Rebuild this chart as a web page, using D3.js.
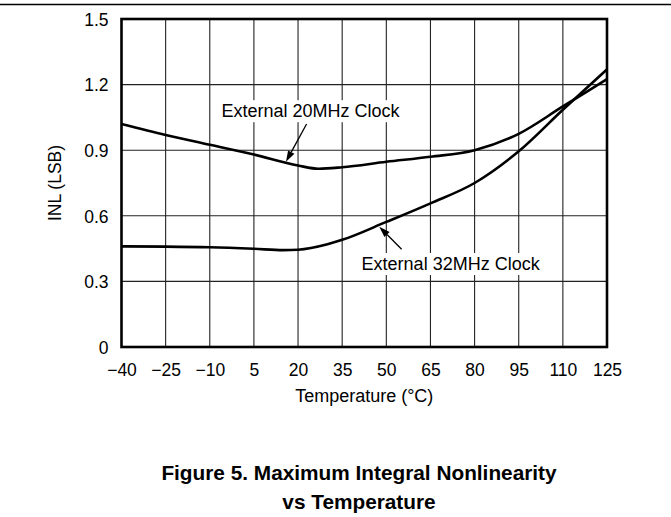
<!DOCTYPE html>
<html><head><meta charset="utf-8">
<script src="https://cdn.jsdelivr.net/npm/d3@7"></script>
<style>
html,body{margin:0;padding:0;background:#fff;}
svg{display:block;font-family:"Liberation Sans",Arial,Helvetica,sans-serif;}
</style></head>
<body>
<svg id="chart" width="671" height="517"></svg>
<script>
// ---- data ----
const xTicks = [-40, -25, -10, 5, 20, 35, 50, 65, 80, 95, 110, 125];
const yTicks = [0, 0.3, 0.6, 0.9, 1.2, 1.5];
const yTickLabels = ["0", "0.3", "0.6", "0.9", "1.2", "1.5"];
const temp20 = [-40, -25, -10, 5, 20, 27, 35, 50, 65, 80, 95, 110, 125];
const inl20  = [1.02, 0.97, 0.925, 0.88, 0.83, 0.815, 0.822, 0.847, 0.87, 0.90, 0.975, 1.10, 1.225];
const temp32 = [-40, -25, -10, 5, 15, 20, 30, 35, 50, 65, 80, 95, 110, 125];
const inl32  = [0.46, 0.459, 0.456, 0.449, 0.443, 0.445, 0.47, 0.49, 0.572, 0.657, 0.75, 0.895, 1.085, 1.27];
const labels = ["External 20MHz Clock", "External 32MHz Clock"];
// annotation anchors in data units: [textX, textY, arrowFromX, arrowFromY, arrowToX, arrowToY]
const annot20 = [-6, 1.051, 22.9, 1.02, 15.9, 0.847];
const annot32 = [41.6, 0.352, 55.2, 0.447, 47.6, 0.55];
const xTitle = "Temperature (°C)";
const yTitle = "INL (LSB)";
const titleLines = ["Figure 5. Maximum Integral Nonlinearity", "vs Temperature"];

// ---- layout ----
const L = 121.5, R = 607, T = 19, B = 347;
const svg = d3.select("#chart");
const x = d3.scaleLinear().domain([-40, 125]).range([L, R]);
const y = d3.scaleLinear().domain([0, 1.5]).range([B, T]);
const fmtMinus = v => v < 0 ? "\u2212" + Math.abs(v) : String(v);

// top rule
svg.append("line").attr("x1", 0).attr("x2", 671).attr("y1", 4.5).attr("y2", 4.5)
  .attr("stroke", "#000").attr("stroke-width", 1.3);

// grid
const grid = svg.append("g");
grid.selectAll(".vg").data(xTicks.slice(1, -1)).join("line")
  .attr("x1", d => x(d)).attr("x2", d => x(d)).attr("y1", T).attr("y2", B)
  .attr("stroke", "#222").attr("stroke-width", 1.1);
grid.selectAll(".hg").data(yTicks.slice(1, -1)).join("line")
  .attr("y1", d => y(d)).attr("y2", d => y(d)).attr("x1", L).attr("x2", R)
  .attr("stroke", "#222").attr("stroke-width", 1.1);

// axes (labels only, via d3 axis)
const xAxis = d3.axisBottom(x).tickValues(xTicks).tickSize(0).tickPadding(0).tickFormat(fmtMinus);
const gx = svg.append("g").attr("transform", `translate(0,${B})`).call(xAxis);
gx.select(".domain").remove();
gx.selectAll("text").attr("dy", null).attr("y", 29).attr("font-size", 17.5)
  .attr("font-family", "Liberation Sans, Arial, sans-serif").attr("fill", "#000");

const yAxis = d3.axisLeft(y).tickValues(yTicks).tickSize(0).tickPadding(13)
  .tickFormat((d, i) => yTickLabels[i]);
const gy = svg.append("g").attr("transform", `translate(${L},0)`).call(yAxis);
gy.select(".domain").remove();
gy.selectAll("text").attr("font-size", 17.5).attr("dy", "0.36em")
  .attr("font-family", "Liberation Sans, Arial, sans-serif").attr("fill", "#000");

// label backgrounds + text
const annLayer = svg.append("g");
function drawLabel(a, text) {
  const g = annLayer.append("g");
  const t = g.append("text").attr("x", x(a[0])).attr("y", y(a[1]))
    .attr("font-size", 18).attr("fill", "#000").text(text);
  const bb = t.node().getBBox();
  g.insert("rect", "text").attr("x", bb.x - 3).attr("y", bb.y - 1)
    .attr("width", bb.width + 6).attr("height", bb.height + 2).attr("fill", "#fff");
}

// curves
const line = d3.line().x(d => x(d[0])).y(d => y(d[1])).curve(d3.curveMonotoneX);
svg.append("path").datum(temp20.map((t, i) => [t, inl20[i]])).attr("d", line)
  .attr("fill", "none").attr("stroke", "#000").attr("stroke-width", 2.6);
svg.append("path").datum(temp32.map((t, i) => [t, inl32[i]])).attr("d", line)
  .attr("fill", "none").attr("stroke", "#000").attr("stroke-width", 2.6);

annLayer.raise();
drawLabel(annot20, labels[0]);
drawLabel(annot32, labels[1]);

// arrows
function drawArrow(a) {
  const x1 = x(a[2]), y1 = y(a[3]), x2 = x(a[4]), y2 = y(a[5]);
  const ang = Math.atan2(y2 - y1, x2 - x1);
  const len = 11, hw = 3.6;
  const bx = x2 - len * Math.cos(ang), by = y2 - len * Math.sin(ang);
  svg.append("line").attr("x1", x1).attr("y1", y1).attr("x2", bx).attr("y2", by)
    .attr("stroke", "#000").attr("stroke-width", 1.3);
  const p = [[x2, y2],
    [bx + hw * Math.sin(ang), by - hw * Math.cos(ang)],
    [bx - hw * Math.sin(ang), by + hw * Math.cos(ang)]];
  svg.append("path").attr("d", "M" + p.map(q => q.join(",")).join("L") + "Z").attr("fill", "#000");
}
drawArrow(annot20);
drawArrow(annot32);

// frame
svg.append("rect").attr("x", L).attr("y", T).attr("width", R - L).attr("height", B - T)
  .attr("fill", "none").attr("stroke", "#000").attr("stroke-width", 2.6);

// axis titles
svg.append("text").attr("x", (L + R) / 2).attr("y", 402).attr("text-anchor", "middle")
  .attr("font-size", 18).attr("fill", "#000").text(xTitle);
svg.append("text").attr("transform", `translate(61,${(T + B) / 2}) rotate(-90)`)
  .attr("text-anchor", "middle").attr("font-size", 17.5).attr("fill", "#000").text(yTitle);

// figure title
svg.selectAll(".title").data(titleLines).join("text")
  .attr("x", 359).attr("y", (d, i) => 480 + i * 28.5).attr("text-anchor", "middle")
  .attr("font-size", 20.8).attr("font-weight", "bold").attr("fill", "#000").text(d => d);
</script>
</body></html>
